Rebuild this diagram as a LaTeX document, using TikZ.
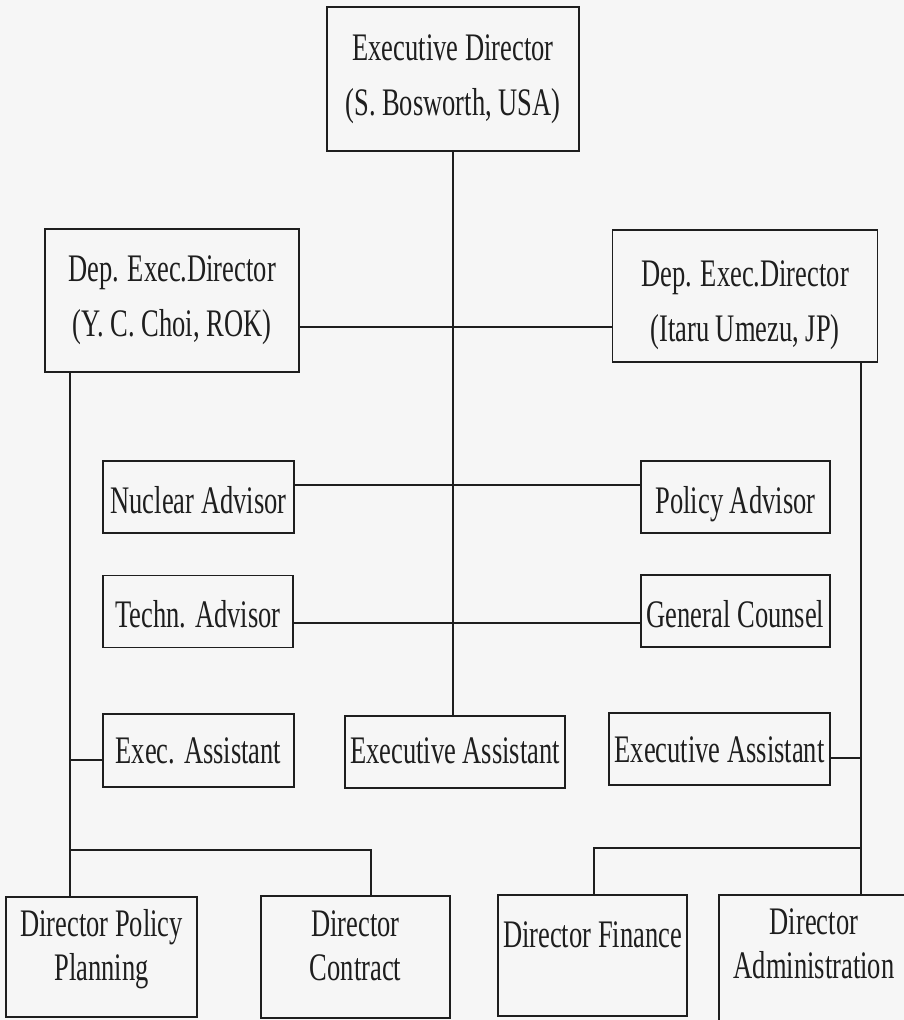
\documentclass[tikz,border=0pt]{standalone}
\usepackage{fontspec}
\setmainfont{Liberation Serif}[FakeStretch=0.68]
\definecolor{bg}{RGB}{246,246,246}
\definecolor{ink}{RGB}{30,30,30}
\newcommand{\twolines}[2]{\begin{tabular}[b]{@{}c@{}}#1\\#2\end{tabular}}
\tikzset{
  box/.style={draw=ink, line width=1.7pt, inner sep=0pt, text=ink,
    font=\fontsize{39}{55}\selectfont},
  lowbox/.style={box, font=\fontsize{39}{44}\selectfont},
  off/.code={\pgfmathsetlengthmacro\myoffh{20pt+2*(#1)}%
    \edef\myofftmp{\noexpand\tikzset{text depth=20pt, text height=\myoffh}}\myofftmp},
  link/.style={draw=ink, line width=1.3pt}
}
\begin{document}
\begin{tikzpicture}[x=1pt,y=-1pt]
\fill[bg] (0,0) rectangle (904,1020);
\begin{scope}
\clip (0,0) rectangle (904,1020);
% top
\node[box, off=36, minimum width=252pt, minimum height=144pt] (exec) at (453,79) {\twolines{Executive Director}{(S. Bosworth, USA)}};
\node[box, off=36, minimum width=254pt, minimum height=143pt] (depL) at (172,300.5) {\twolines{Dep. Exec.Director}{(Y. C. Choi, ROK)}};
\node[box, off=45, minimum width=265pt, minimum height=132pt] (depR) at (745,296) {\twolines{Dep. Exec.Director}{(Itaru Umezu, JP)}};
% advisors
\node[box, off=16, minimum width=191pt, minimum height=70pt] (nuc) at (198.5,497) {Nuclear Advisor};
\node[box, off=16, minimum width=189pt, minimum height=70pt] (pol) at (735.5,497) {Policy Advisor};
\node[box, off=16, minimum width=190pt, minimum height=69pt] (tech) at (198,611.5) {Techn. Advisor};
\node[box, off=16, minimum width=189pt, minimum height=68pt] (gc) at (735.5,611) {General Counsel};
% assistants
\node[box, off=12.5, minimum width=191pt, minimum height=73pt] (ea1) at (198.5,750.5) {Exec. Assistant};
\node[box, off=11, minimum width=220pt, minimum height=72pt] (ea2) at (455,752) {Executive Assistant};
\node[box, off=13, minimum width=221pt, minimum height=72pt] (ea3) at (719.5,749) {Executive Assistant};
% directors
\node[lowbox, off=23, minimum width=191pt, minimum height=120pt] (dpp) at (101.5,957) {\twolines{Director Policy}{Planning}};
\node[lowbox, off=23, minimum width=189pt, minimum height=122pt] (dc) at (355.5,957) {\twolines{Director}{Contract}};
\node[lowbox, off=-8.5, minimum width=189pt, minimum height=121pt] (df) at (592.5,955.5) {Director Finance};
\node[lowbox, off=19.5, minimum width=190pt, minimum height=127pt] (da) at (814,958.5) {\twolines{Director}{Administration}};
% helper coordinates
\coordinate (sL) at (70,0);
\coordinate (sR) at (861,0);
\coordinate (h1) at (453,327);
\coordinate (h2) at (453,485);
\coordinate (h3) at (453,623);
\coordinate (bL) at (371,850);
\coordinate (bR) at (594,848);
% connectors
\draw[link] (exec.south) -- (exec.south |- ea2.north);
\draw[link] (h1 -| depL.east) -- (h1 -| depR.west);
\draw[link] (h2 -| nuc.east) -- (h2 -| pol.west);
\draw[link] (h3 -| tech.east) -- (h3 -| gc.west);
\draw[link] (sL |- depL.south) -- (sL |- dpp.north);
\draw[link] (sR |- depR.south) -- (sR |- da.north);
\draw[link] (sL |- 0,760) -- (ea1.west |- 0,760);
\draw[link] (ea3.east |- 0,758) -- (sR |- 0,758);
\draw[link] (sL |- bL) -- (bL) -- (bL |- dc.north);
\draw[link] (sR |- bR) -- (bR) -- (bR |- df.north);
\end{scope}
\pgfresetboundingbox
\useasboundingbox (0,0) rectangle (904,1020);
\end{tikzpicture}
\end{document}
